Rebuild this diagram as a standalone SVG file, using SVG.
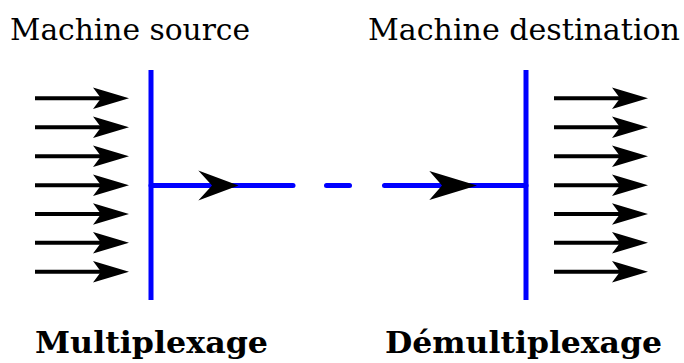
<svg xmlns="http://www.w3.org/2000/svg" width="684" height="363" viewBox="0 0 684 363">
<style>
.t{font-family:"DejaVu Serif","Liberation Serif",serif;font-size:30px;fill:#000}
.b{font-family:"DejaVu Serif","Liberation Serif",serif;font-size:29px;font-weight:bold;fill:#000}
.bl{stroke:#0000ff;stroke-width:5;fill:none}
.k{stroke:#000;stroke-width:4;fill:none}
.ah{fill:#000;stroke:none}
</style>
<defs>
<g id="arr">
<line class="k" x1="0" y1="0" x2="84" y2="0"/>
<path class="ah" d="M94,0 L58,-10.8 L66,0 L58,10.8 Z"/>
</g>
</defs>
<g id="label-source"><text class="t" x="10" y="40" textLength="240" lengthAdjust="spacingAndGlyphs">Machine source</text></g>
<g id="label-destination"><text class="t" x="368" y="40" textLength="312" lengthAdjust="spacingAndGlyphs">Machine destination</text></g>
<g id="label-mux"><text class="b" x="35" y="353" textLength="233" lengthAdjust="spacingAndGlyphs">Multiplexage</text></g>
<g id="label-demux"><text class="b" x="385" y="353" textLength="277" lengthAdjust="spacingAndGlyphs">Démultiplexage</text></g>
<g id="mux">
<line class="bl" x1="151" y1="70" x2="151" y2="300"/>
</g>
<g id="demux">
<line class="bl" x1="526" y1="70" x2="526" y2="300"/>
</g>
<g id="inputs">
<use href="#arr" x="35" y="98.3"/>
<use href="#arr" x="35" y="127.3"/>
<use href="#arr" x="35" y="156.3"/>
<use href="#arr" x="35" y="185.3"/>
<use href="#arr" x="35" y="214"/>
<use href="#arr" x="35" y="242.8"/>
<use href="#arr" x="35" y="271.7"/>
</g>
<g id="outputs">
<use href="#arr" x="554" y="98.3"/>
<use href="#arr" x="554" y="127.3"/>
<use href="#arr" x="554" y="156.3"/>
<use href="#arr" x="554" y="185.3"/>
<use href="#arr" x="554" y="214"/>
<use href="#arr" x="554" y="242.8"/>
<use href="#arr" x="554" y="271.7"/>
</g>
<g id="connectors">
<line class="bl" x1="151" y1="185.5" x2="293" y2="185.5" stroke-linecap="round"/>
<line class="bl" x1="326.5" y1="185.5" x2="349.5" y2="185.5" stroke-linecap="round"/>
<line class="bl" x1="384.5" y1="185.5" x2="526" y2="185.5" stroke-linecap="round"/>
<path class="ah" d="M238.5,185.5 L198.3,170.5 L212,185.5 L198.3,200.5 Z"/>
<path class="ah" d="M477,185.5 L429.3,171 L442,185.5 L429.3,200 Z"/>
</g>
</svg>
